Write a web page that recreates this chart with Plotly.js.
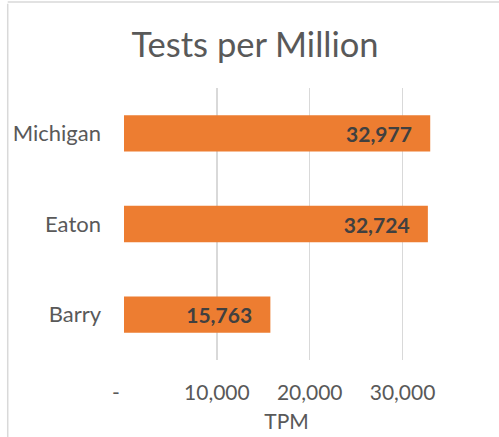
<!DOCTYPE html>
<html>
<head>
<meta charset="utf-8">
<script src="https://cdn.plot.ly/plotly-3.0.1.min.js"></script>
<style>
  html, body { margin: 0; padding: 0; background: #ffffff; }
  #chart { width: 499px; height: 437px; }
</style>
</head>
<body>
<div id="chart"></div>
<script>
const categories = ["Barry", "Eaton", "Michigan"];
const values = [15763, 32724, 32977];
const tickValues = [0, 10000, 20000, 30000];
const tickLabels = ["-\u00a0\u00a0\u00a0", "10,000", "20,000", "30,000"];

const fontFamily = "Lato, 'Open Sans', sans-serif";
const pad = "\u00a0\u00a0\u00a0";

const trace = {
  type: "bar",
  orientation: "h",
  y: categories,
  x: values,
  marker: { color: "#ED7D31" },
  text: values.map(v => v.toLocaleString("en-US") + pad),
  textposition: "inside",
  insidetextanchor: "end",
  textangle: 0,
  textfont: { family: fontFamily, size: 21, color: "#404040", weight: "bold" },
  cliponaxis: false,
  hoverinfo: "skip"
};

const layout = {
  width: 499,
  height: 437,
  margin: { l: 124, r: 50, t: 88, b: 77 },
  paper_bgcolor: "#ffffff",
  plot_bgcolor: "#ffffff",
  showlegend: false,
  bargap: 0.6,
  title: {
    text: "Tests per Million",
    font: { family: fontFamily, size: 34.5, color: "#595959" },
    x: 0.511, xref: "container", xanchor: "center",
    y: 0.897, yref: "container", yanchor: "middle"
  },
  xaxis: {
    range: [0, 35000],
    tickvals: tickValues,
    ticktext: tickLabels,
    showgrid: true,
    gridcolor: "#d9d9d9",
    gridwidth: 1.5,
    zeroline: false,
    showline: false,
    ticks: "",
    ticklabelstandoff: 18,
    tickfont: { family: fontFamily, size: 21, color: "#595959" },
    title: { text: "TPM", font: { family: fontFamily, size: 21, color: "#595959" }, standoff: 11 },
    fixedrange: true
  },
  yaxis: {
    categoryorder: "array",
    categoryarray: categories,
    showgrid: false,
    zeroline: false,
    showline: false,
    ticks: "",
    ticklabelstandoff: 22,
    tickfont: { family: fontFamily, size: 22, color: "#595959" },
    fixedrange: true
  },
  shapes: [
    { type: "line", xref: "paper", yref: "paper", x0: -0.3578, x1: -0.3578, y0: -1, y1: 1.31, line: { color: "#d9d9d9", width: 1.5 } },
    { type: "line", xref: "paper", yref: "paper", x0: -0.3578, x1: 1.5, y0: 1.3162, y1: 1.3162, line: { color: "#d9d9d9", width: 1.5 } }
  ]
};

Plotly.newPlot("chart", [trace], layout, { displayModeBar: false, staticPlot: true });
</script>
</body>
</html>
